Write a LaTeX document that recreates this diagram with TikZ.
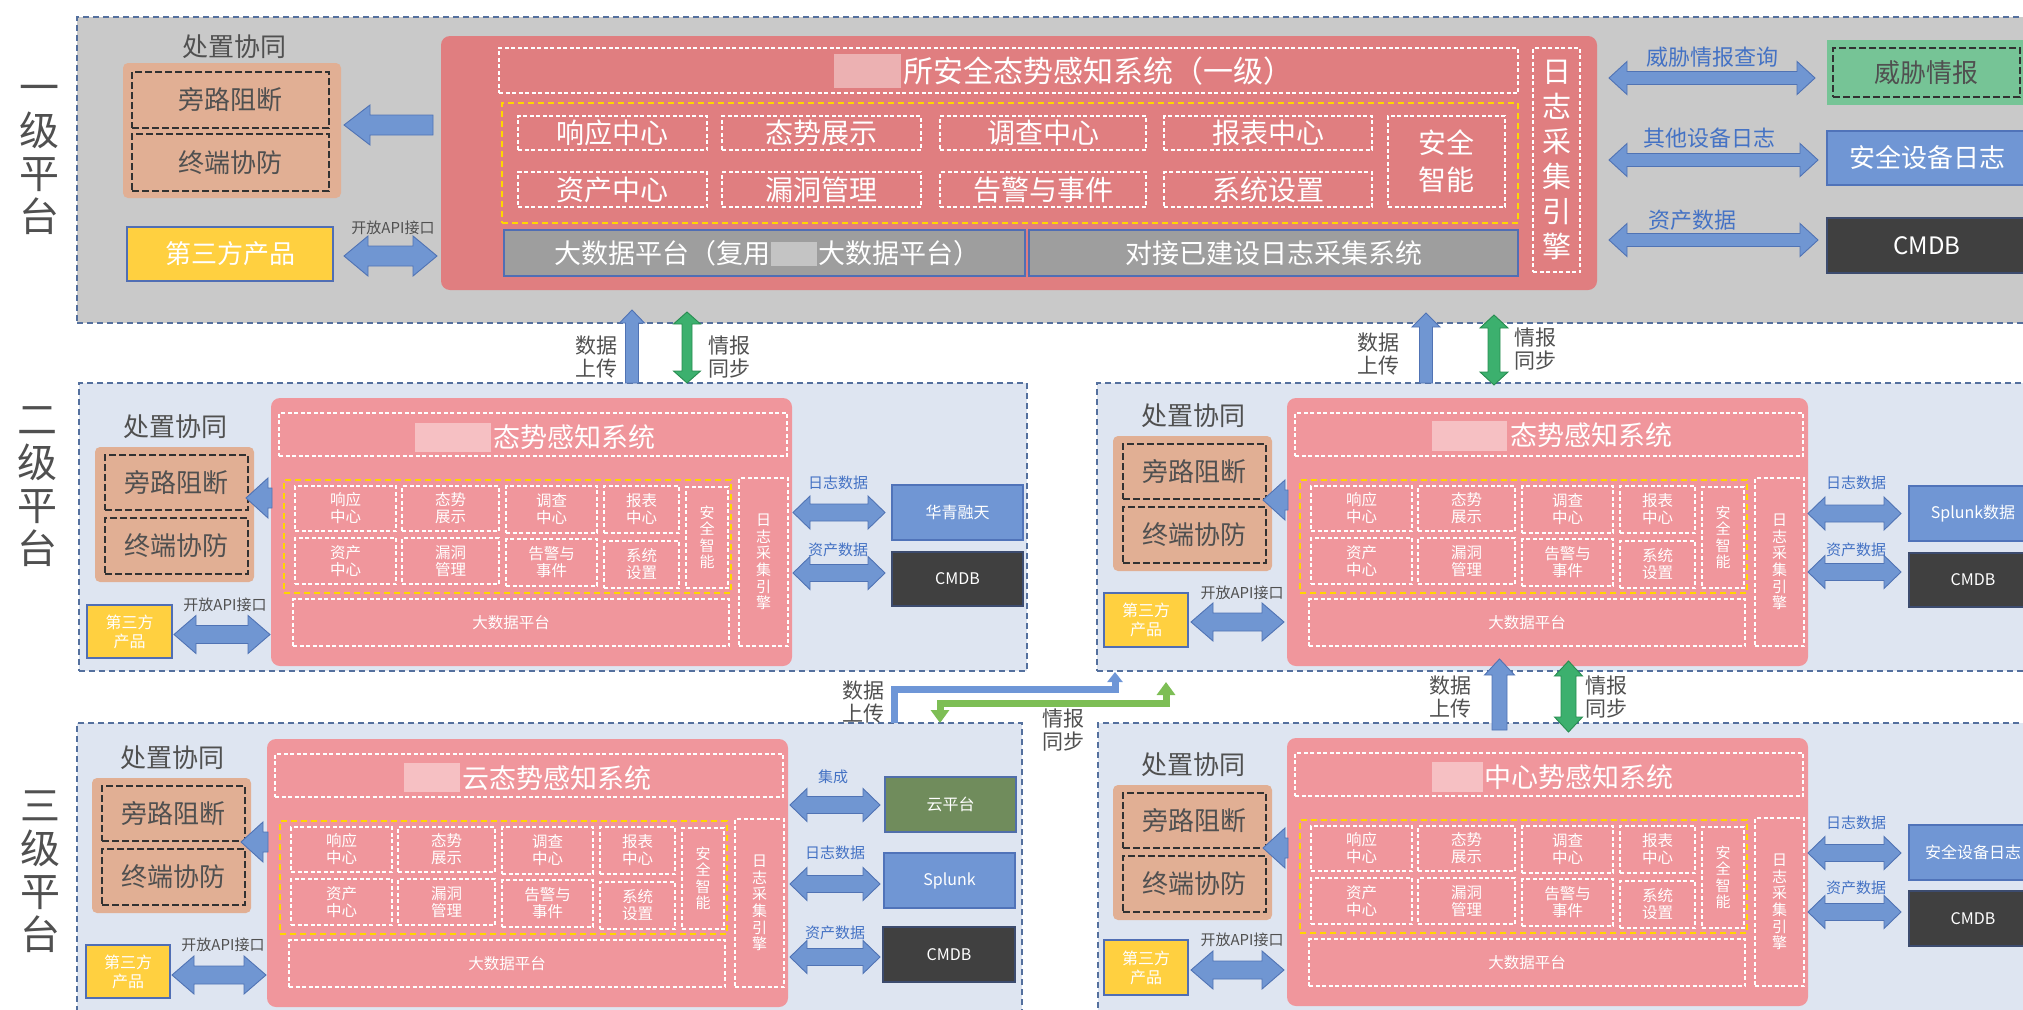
\documentclass[tikz,border=0pt]{standalone}
\usepackage{fontspec}
\setmainfont{Noto Sans CJK SC}
\usetikzlibrary{calc,arrows.meta}

\definecolor{cTone}{RGB}{201,201,201}
\definecolor{cTtwo}{RGB}{222,229,241}
\definecolor{cTierLn}{RGB}{84,112,158}
\definecolor{cPinkA}{RGB}{224,126,128}
\definecolor{cPinkB}{RGB}{240,150,156}
\definecolor{cOrange}{RGB}{225,175,148}
\definecolor{cGold}{RGB}{255,208,64}
\definecolor{cGoldLn}{RGB}{80,110,180}
\definecolor{cYel}{RGB}{255,214,0}
\definecolor{cArrow}{RGB}{112,150,210}
\definecolor{cArrowLn}{RGB}{80,115,180}
\definecolor{cGArrow}{RGB}{60,176,110}
\definecolor{cGArrowLn}{RGB}{40,140,80}
\definecolor{cElbG}{RGB}{125,190,85}
\definecolor{cElbB}{RGB}{110,150,215}
\definecolor{cBlueBox}{RGB}{112,150,212}
\definecolor{cBlueLn}{RGB}{80,115,185}
\definecolor{cDarkBox}{RGB}{64,64,64}
\definecolor{cDarkLn}{RGB}{60,75,110}
\definecolor{cTI}{RGB}{118,196,150}
\definecolor{cCloud}{RGB}{112,140,92}
\definecolor{cCloudLn}{RGB}{80,110,170}
\definecolor{cGrayBar}{RGB}{158,158,158}
\definecolor{cGrayLn}{RGB}{80,110,180}
\definecolor{cTxt}{RGB}{80,80,80}
\definecolor{cBluTxt}{RGB}{68,114,196}
\definecolor{cDark}{RGB}{50,50,50}

\tikzset{
 tierbox/.style={draw=cTierLn, line width=1.6pt, dash pattern=on 6pt off 4pt},
 pinkone/.style={fill=cPinkA, rounded corners=9pt},
 pinktwo/.style={fill=cPinkB, rounded corners=9pt},
 wd/.style={draw=white, line width=1.4pt, dash pattern=on 4pt off 2.5pt, text=white, align=center},
 yd/.style={draw=cYel, line width=1.6pt, dash pattern=on 6pt off 4pt},
 orbox/.style={fill=cOrange, rounded corners=5pt},
 kd/.style={draw=cDark, line width=2.6pt, dash pattern=on 7pt off 3pt, text=cTxt, font=\fontsize{26}{28}\selectfont},
 tpbox/.style={fill=cGold, draw=cGoldLn, line width=1.2pt, text=white, align=center},
 tierlab/.style={text=cTxt, align=center, font=\fontsize{40}{43}\selectfont},
 czlab/.style={text=cTxt, font=\fontsize{26}{28}\selectfont},
 apilab/.style={text=cTxt, font=\fontsize{15}{17}\selectfont},
 flowlab/.style={text=cTxt, align=center, font=\fontsize{21}{23}\selectfont},
 bluelab/.style={text=cBluTxt, font=\fontsize{15}{17}\selectfont},
 bluebig/.style={text=cBluTxt, font=\fontsize{22}{24}\selectfont},
 cellbig/.style={font=\fontsize{28}{37}\selectfont},
 cellsm/.style={font=\fontsize{15.5}{17}\selectfont},
 graybar/.style={fill=cGrayBar, draw=cGrayLn, line width=1.2pt, text=white, font=\fontsize{27}{29}\selectfont},
 extbox/.style={line width=1.2pt, text=white, font=\fontsize{16}{18}\selectfont},
 ttl/.style={anchor=west, text=white, font=\fontsize{27}{29}\selectfont},
 blur/.style={fill=white, opacity=0.4},
 blk/.style={fill=cArrow, draw=cArrowLn, line width=0.9pt},
 grn/.style={fill=cGArrow, draw=cGArrowLn, line width=0.9pt},
 fatdbl/.style n args={3}{to path={
   -- ($(\tikztostart)!#3!(\tikztotarget)!#1!90:(\tikztotarget)$)
   -- ($(\tikztostart)!#3!(\tikztotarget)!#2!90:(\tikztotarget)$)
   -- ($(\tikztotarget)!#3!(\tikztostart)!#2!-90:(\tikztostart)$)
   -- ($(\tikztotarget)!#3!(\tikztostart)!#1!-90:(\tikztostart)$)
   -- (\tikztotarget)
   -- ($(\tikztotarget)!#3!(\tikztostart)!#1!90:(\tikztostart)$)
   -- ($(\tikztotarget)!#3!(\tikztostart)!#2!90:(\tikztostart)$)
   -- ($(\tikztostart)!#3!(\tikztotarget)!#2!-90:(\tikztotarget)$)
   -- ($(\tikztostart)!#3!(\tikztotarget)!#1!-90:(\tikztotarget)$)
   -- cycle}},
 fatsgl/.style n args={3}{to path={
   -- ($(\tikztostart)!#2!90:(\tikztotarget)$)
   -- ($(\tikztotarget)!#3!(\tikztostart)!#2!-90:(\tikztostart)$)
   -- ($(\tikztotarget)!#3!(\tikztostart)!#1!-90:(\tikztostart)$)
   -- (\tikztotarget)
   -- ($(\tikztotarget)!#3!(\tikztostart)!#1!90:(\tikztostart)$)
   -- ($(\tikztotarget)!#3!(\tikztostart)!#2!90:(\tikztostart)$)
   -- ($(\tikztostart)!#2!-90:(\tikztotarget)$)
   -- cycle}},
 elbowb/.style={draw=cElbB, line width=7pt, -{Triangle[width=15pt,length=10pt]}},
 elbowg/.style={draw=cElbG, line width=7pt, {Triangle[width=18pt,length=13pt]}-{Triangle[width=18pt,length=13pt]}},
}

% rectangle node from corner (x1,y1) to (x2,y2): [opts]{name}{x1}{y1}{x2}{y2}{text}
\newcommand\bx[7][]{\node[#1, minimum width={(#5)-(#3)}, minimum height={(#6)-(#4)}] (#2) at ({((#3)+(#5))/2},{((#4)+(#6))/2}) {#7};}

% standard tier-2/3 system block: #1 prefix, #2 dx, #3 dy
\newcommand\mySys[3]{%
\bx[pinktwo]{#1pk}{271+#2}{398+#3}{792+#2}{666+#3}{}
\bx[wd]{#1tt}{279+#2}{413+#3}{787+#2}{456+#3}{}
\bx[yd]{#1yl}{284+#2}{480+#3}{731+#2}{593+#3}{}
\bx[wd, cellsm]{#1c1}{295+#2}{486+#3}{396+#2}{531+#3}{响应\\中心}
\bx[wd, cellsm]{#1c2}{402+#2}{486+#3}{499+#2}{531+#3}{态势\\展示}
\bx[wd, cellsm]{#1c3}{506+#2}{486+#3}{597+#2}{533+#3}{调查\\中心}
\bx[wd, cellsm]{#1c4}{604+#2}{486+#3}{679+#2}{533+#3}{报表\\中心}
\bx[wd, cellsm]{#1c5}{295+#2}{538+#3}{396+#2}{584+#3}{资产\\中心}
\bx[wd, cellsm]{#1c6}{402+#2}{538+#3}{499+#2}{584+#3}{漏洞\\管理}
\bx[wd, cellsm]{#1c7}{506+#2}{539+#3}{597+#2}{586+#3}{告警与\\事件}
\bx[wd, cellsm]{#1c8}{604+#2}{541+#3}{679+#2}{588+#3}{系统\\设置}
\bx[wd, font=\fontsize{15}{16.5}\selectfont]{#1c9}{686+#2}{487+#3}{728+#2}{588+#3}{安\\全\\智\\能}
\bx[wd, cellsm]{#1bd}{293+#2}{599+#3}{729+#2}{646+#3}{大数据平台}
\bx[wd, font=\fontsize{15}{16.7}\selectfont]{#1lg}{739+#2}{478+#3}{788+#2}{646+#3}{日\\志\\采\\集\\引\\擎}
}

% disposal group: #1 prefix, (#2,#3) top-left of orange box
\newcommand\myDispo[3]{%
\node[czlab] (#1cz) at ({#2+80},{#3-20}) {处置协同};
\bx[orbox]{#1or}{#2}{#3}{#2+159}{#3+135}{}
\bx[kd]{#1pl}{#2+10}{#3+8}{#2+153}{#3+63}{旁路阻断}
\bx[kd]{#1zd}{#2+10}{#3+71}{#2+153}{#3+127}{终端协防}
}

\begin{document}
\begin{tikzpicture}[x=1pt,y=-1pt, every node/.style={inner sep=0pt,outer sep=0pt}]
\useasboundingbox (0,0) rectangle (2023,1009);
\clip (0,0) rectangle (2023,1009);

% ---------- tier frames ----------
\bx[tierbox, fill=cTone]{t1}{77}{17}{2060}{323}{}
\bx[tierbox, fill=cTtwo]{t2l}{79}{383}{1027}{671}{}
\bx[tierbox, fill=cTtwo]{t2r}{1097}{383}{2060}{671}{}
\bx[tierbox, fill=cTtwo]{t3l}{77}{723}{1022}{1030}{}
\bx[tierbox, fill=cTtwo]{t3r}{1098}{723}{2060}{1030}{}

\node[tierlab] (lab1) at (39,160) {一\\级\\平\\台};
\node[tierlab] (lab2) at (37,487) {二\\级\\平\\台};
\node[tierlab] (lab3) at (40,872) {三\\级\\平\\台};

% ---------- tier 1 ----------
\node[czlab] (cz1) at (234,47) {处置协同};
\bx[orbox]{or1}{123}{63}{341}{198}{}
\bx[kd]{pl1}{132}{72}{329}{128}{旁路阻断}
\bx[kd]{zd1}{132}{134}{329}{191}{终端协防}
\bx[tpbox, font=\fontsize{26}{28}\selectfont]{tp1}{127}{227}{333}{281}{第三方产品}
\node[apilab] (api1) at (393,228) {开放API接口};

\bx[pinkone]{pk1}{441}{36}{1597}{290}{}
\bx[wd]{tt1}{499}{48}{1518}{93}{}
\fill[blur] (834,54) rectangle (901,88);
\node[anchor=west, text=white, font=\fontsize{30}{32}\selectfont] (tt1x) at (903,71) {所安全态势感知系统（一级）};
\bx[yd]{yl1}{502}{103}{1518}{223}{}
\bx[wd, cellbig]{a1}{518}{116}{707}{150}{响应中心}
\bx[wd, cellbig]{a2}{722}{116}{921}{150}{态势展示}
\bx[wd, cellbig]{a3}{940}{116}{1146}{150}{调查中心}
\bx[wd, cellbig]{a4}{1164}{116}{1372}{150}{报表中心}
\bx[wd, cellbig]{a5}{518}{172}{707}{207}{资产中心}
\bx[wd, cellbig]{a6}{722}{172}{921}{207}{漏洞管理}
\bx[wd, cellbig]{a7}{940}{172}{1146}{207}{告警与事件}
\bx[wd, cellbig]{a8}{1164}{172}{1372}{207}{系统设置}
\bx[wd, cellbig]{a9}{1388}{116}{1505}{207}{安全\\智能}
\bx[graybar]{bd1}{504}{230}{1025}{276}{}
\node[anchor=east, text=white, font=\fontsize{27}{29}\selectfont] (bd1a) at (770,253) {大数据平台（复用};
\fill[blur] (771,242) rectangle (817,266);
\node[anchor=west, text=white, font=\fontsize{27}{29}\selectfont] (bd1b) at (818,253) {大数据平台）};
\bx[graybar]{dj1}{1029}{230}{1518}{276}{对接已建设日志采集系统}
\bx[wd, font=\fontsize{29}{35}\selectfont]{lg1}{1533}{48}{1580}{272}{日\\志\\采\\集\\引\\擎}

\node[bluebig] (q1) at (1712,57) {威胁情报查询};
\node[bluebig] (q2) at (1709,138) {其他设备日志};
\node[bluebig] (q3) at (1692,220) {资产数据};
\bx[fill=cTI]{ti}{1827}{40}{2060}{105}{}
\bx[kd]{tii}{1833}{48}{2020}{97}{威胁情报}
\bx[extbox, fill=cBlueBox, draw=cBlueLn, font=\fontsize{26}{28}\selectfont]{sd1}{1827}{131}{2027}{185}{安全设备日志}
\bx[extbox, fill=cDarkBox, draw=cDarkLn, font=\fontsize{24}{26}\selectfont]{cm1}{1827}{218}{2027}{273}{CMDB}

\coordinate (a1s) at ($(pk1.west |- or1.east)+(-8,-5.5)$);
\coordinate (a1t) at ($(or1.east)+(3,-5.5)$);
\path[blk] (a1s) to[fatsgl={20pt}{10pt}{26pt}] (a1t);
\coordinate (b1s) at ($(tp1.east)+(11,2)$);
\coordinate (b1t) at ($(tp1.east -| pk1.west)+(-4,2)$);
\path[blk] (b1s) to[fatdbl={20pt}{10pt}{24pt}] (b1t);
\coordinate (c1s) at ($(pk1.east |- ti.west)+(12,5.5)$);
\coordinate (c1t) at ($(ti.west)+(-12,5.5)$);
\path[blk] (c1s) to[fatdbl={16.5pt}{6.5pt}{18pt}] (c1t);
\coordinate (d1s) at ($(pk1.east |- sd1.west)+(12,2)$);
\coordinate (d1t) at ($(sd1.west)+(-9,2)$);
\path[blk] (d1s) to[fatdbl={16.5pt}{6.5pt}{18pt}] (d1t);
\coordinate (e1s) at ($(pk1.east |- cm1.west)+(12,-5.5)$);
\coordinate (e1t) at ($(cm1.west)+(-9,-5.5)$);
\path[blk] (e1s) to[fatdbl={16.5pt}{6.5pt}{18pt}] (e1t);

% ---------- tier 2 / 3 system blocks ----------
\mySys{t2l}{0}{0}
\mySys{t2r}{1016}{0}
\mySys{t3l}{(-4)}{341}
\mySys{t3r}{1016}{340}

\fill[blur] (415,423) rectangle (491,452);
\node[ttl] (t2lx) at (493,437) {态势感知系统};
\fill[blur] (1432,421) rectangle (1507,451);
\node[ttl] (t2rx) at (1510,435) {态势感知系统};
\fill[blur] (404,763) rectangle (460,792);
\node[ttl] (t3lx) at (462,778) {云态势感知系统};
\fill[blur] (1432,762) rectangle (1483,792);
\node[ttl] (t3rx) at (1484,777) {中心势感知系统};

\myDispo{t2l}{95}{447}
\myDispo{t2r}{1113}{436}
\myDispo{t3l}{92}{778}
\myDispo{t3r}{1113}{785}

% disposal arrows
\coordinate (t2lq1) at ($(t2lpk.west |- t2lor.north)+(1,51)$);
\coordinate (t2lq2) at ($(t2lor.north east)+(-8,51)$);
\path[blk] (t2lq1) to[fatsgl={20pt}{10pt}{22pt}] (t2lq2);
\coordinate (t2rq1) at ($(t2rpk.west |- t2ror.north)+(1,64)$);
\coordinate (t2rq2) at ($(t2ror.north east)+(-9,64)$);
\path[blk] (t2rq1) to[fatsgl={20pt}{10pt}{22pt}] (t2rq2);
\coordinate (t3lq1) at ($(t3lpk.west |- t3lor.north)+(1,64)$);
\coordinate (t3lq2) at ($(t3lor.north east)+(-10,64)$);
\path[blk] (t3lq1) to[fatsgl={20pt}{10pt}{22pt}] (t3lq2);
\coordinate (t3rq1) at ($(t3rpk.west |- t3ror.north)+(1,63)$);
\coordinate (t3rq2) at ($(t3ror.north east)+(-9,63)$);
\path[blk] (t3rq1) to[fatsgl={20pt}{10pt}{22pt}] (t3rq2);

% third party products
\bx[tpbox, font=\fontsize{16}{19}\selectfont]{t2ltp}{87}{605}{172}{658}{第三方\\产品}
\bx[tpbox, font=\fontsize{16}{19}\selectfont]{t2rtp}{1104}{593}{1188}{647}{第三方\\产品}
\bx[tpbox, font=\fontsize{16}{19}\selectfont]{t3ltp}{86}{945}{170}{998}{第三方\\产品}
\bx[tpbox, font=\fontsize{16}{19}\selectfont]{t3rtp}{1104}{940}{1188}{995}{第三方\\产品}
\node[apilab] (t2lapi) at (225,605) {开放API接口};
\node[apilab] (t2rapi) at (1242,593) {开放API接口};
\node[apilab] (t3lapi) at (223,945) {开放API接口};
\node[apilab] (t3rapi) at (1242,940) {开放API接口};
\coordinate (t2lb1) at ($(t2ltp.east)+(2,3)$);
\coordinate (t2lb2) at ($(t2ltp.east -| t2lpk.west)+(-1,3)$);
\path[blk] (t2lb1) to[fatdbl={19pt}{9pt}{22pt}] (t2lb2);
\coordinate (t2rb1) at ($(t2rtp.east)+(3,2)$);
\coordinate (t2rb2) at ($(t2rtp.east -| t2rpk.west)+(-3,2)$);
\path[blk] (t2rb1) to[fatdbl={19pt}{9pt}{22pt}] (t2rb2);
\coordinate (t3lb1) at ($(t3ltp.east)+(2,3.5)$);
\coordinate (t3lb2) at ($(t3ltp.east -| t3lpk.west)+(-1,3.5)$);
\path[blk] (t3lb1) to[fatdbl={19pt}{9pt}{22pt}] (t3lb2);
\coordinate (t3rb1) at ($(t3rtp.east)+(3,2.5)$);
\coordinate (t3rb2) at ($(t3rtp.east -| t3rpk.west)+(-3,2.5)$);
\path[blk] (t3rb1) to[fatdbl={19pt}{9pt}{22pt}] (t3rb2);

% right-hand external systems, tier 2 left
\bx[extbox, fill=cBlueBox, draw=cBlueLn]{t2lx1}{892}{485}{1023}{540}{华青融天}
\bx[extbox, fill=cDarkBox, draw=cDarkLn]{t2lx2}{892}{552}{1023}{606}{CMDB}
\node[bluelab] (t2ll1) at (838,483) {日志数据};
\node[bluelab] (t2ll2) at (838,550) {资产数据};
\coordinate (t2lr1s) at ($(t2lpk.east |- t2lx1.west)+(1,0)$);
\coordinate (t2lr1t) at ($(t2lx1.west)+(-7,0)$);
\path[blk] (t2lr1s) to[fatdbl={16.5pt}{8.5pt}{17pt}] (t2lr1t);
\coordinate (t2lr2s) at ($(t2lpk.east |- t2lx2.west)+(1,-6)$);
\coordinate (t2lr2t) at ($(t2lx2.west)+(-7,-6)$);
\path[blk] (t2lr2s) to[fatdbl={16.5pt}{8.5pt}{17pt}] (t2lr2t);

% tier 2 right
\bx[extbox, fill=cBlueBox, draw=cBlueLn]{t2rx1}{1909}{486}{2037}{541}{Splunk数据}
\bx[extbox, fill=cDarkBox, draw=cDarkLn]{t2rx2}{1909}{553}{2037}{607}{CMDB}
\node[bluelab] (t2rl1) at (1856,483) {日志数据};
\node[bluelab] (t2rl2) at (1856,550) {资产数据};
\coordinate (t2rr1s) at ($(t2rpk.east |- t2rx1.west)+(0,0)$);
\coordinate (t2rr1t) at ($(t2rx1.west)+(-8,0)$);
\path[blk] (t2rr1s) to[fatdbl={16.5pt}{8.5pt}{17pt}] (t2rr1t);
\coordinate (t2rr2s) at ($(t2rpk.east |- t2rx2.west)+(0,-8)$);
\coordinate (t2rr2t) at ($(t2rx2.west)+(-8,-8)$);
\path[blk] (t2rr2s) to[fatdbl={16.5pt}{8.5pt}{17pt}] (t2rr2t);

% tier 3 left
\bx[extbox, fill=cCloud, draw=cCloudLn]{t3lx1}{885}{777}{1016}{832}{云平台}
\bx[extbox, fill=cBlueBox, draw=cBlueLn]{t3lx2}{884}{853}{1015}{908}{Splunk}
\bx[extbox, fill=cDarkBox, draw=cDarkLn]{t3lx3}{883}{927}{1015}{982}{CMDB}
\node[bluelab] (t3ll1) at (833,777) {集成};
\node[bluelab] (t3ll2) at (835,853) {日志数据};
\node[bluelab] (t3ll3) at (835,933) {资产数据};
\coordinate (t3lr1s) at ($(t3lpk.east |- t3lx1.west)+(2,0.5)$);
\coordinate (t3lr1t) at ($(t3lx1.west)+(-5,0.5)$);
\path[blk] (t3lr1s) to[fatdbl={16.5pt}{8.5pt}{17pt}] (t3lr1t);
\coordinate (t3lr2s) at ($(t3lpk.east |- t3lx2.west)+(2,3.5)$);
\coordinate (t3lr2t) at ($(t3lx2.west)+(-4,3.5)$);
\path[blk] (t3lr2s) to[fatdbl={16.5pt}{8.5pt}{17pt}] (t3lr2t);
\coordinate (t3lr3s) at ($(t3lpk.east |- t3lx3.west)+(2,2.5)$);
\coordinate (t3lr3t) at ($(t3lx3.west)+(-3,2.5)$);
\path[blk] (t3lr3s) to[fatdbl={16.5pt}{8.5pt}{17pt}] (t3lr3t);

% tier 3 right
\bx[extbox, fill=cBlueBox, draw=cBlueLn]{t3rx1}{1909}{825}{2037}{880}{安全设备日志}
\bx[extbox, fill=cDarkBox, draw=cDarkLn]{t3rx2}{1909}{891}{2037}{946}{CMDB}
\node[bluelab] (t3rl1) at (1856,823) {日志数据};
\node[bluelab] (t3rl2) at (1856,888) {资产数据};
\coordinate (t3rr1s) at ($(t3rpk.east |- t3rx1.west)+(0,0.5)$);
\coordinate (t3rr1t) at ($(t3rx1.west)+(-8,0.5)$);
\path[blk] (t3rr1s) to[fatdbl={16.5pt}{8.5pt}{17pt}] (t3rr1t);
\coordinate (t3rr2s) at ($(t3rpk.east |- t3rx2.west)+(0,-6.5)$);
\coordinate (t3rr2t) at ($(t3rx2.west)+(-8,-6.5)$);
\path[blk] (t3rr2s) to[fatdbl={16.5pt}{8.5pt}{17pt}] (t3rr2t);

% ---------- tier 1 <-> tier 2 ----------
\coordinate (u1s) at ($(t2l.north west)+(553,0)$);
\coordinate (u1t) at ($(t1.south west)+(555,-13)$);
\path[blk] (u1s) to[fatsgl={12.5pt}{6.5pt}{13pt}] (u1t);
\coordinate (g1s) at ($(t2l.north west)+(608,0)$);
\coordinate (g1t) at ($(t1.south west)+(610,-11)$);
\path[grn] (g1s) to[fatdbl={13.5pt}{5pt}{12pt}] (g1t);
\node[flowlab] (f1) at (596,357) {数据\\上传};
\node[flowlab] (f2) at (729,357) {情报\\同步};
\coordinate (u2s) at ($(t2r.north west)+(329,0)$);
\coordinate (u2t) at ($(t1.south west)+(1349,-10)$);
\path[blk] (u2s) to[fatsgl={14pt}{6.5pt}{14pt}] (u2t);
\coordinate (g2s) at ($(t2r.north west)+(397,2)$);
\coordinate (g2t) at ($(t1.south west)+(1417,-8)$);
\path[grn] (g2s) to[fatdbl={14pt}{6pt}{13pt}] (g2t);
\node[flowlab] (f3) at (1378,354) {数据\\上传};
\node[flowlab] (f4) at (1535,349) {情报\\同步};

% ---------- tier 2 <-> tier 3 (right) ----------
\coordinate (u3s) at ($(t3r.north west)+(401.5,7)$);
\coordinate (u3t) at ($(t2r.south west)+(402.5,-12)$);
\path[blk] (u3s) to[fatsgl={15pt}{7.5pt}{16pt}] (u3t);
\coordinate (g3s) at ($(t3r.north west)+(470.5,9)$);
\coordinate (g3t) at ($(t2r.south west)+(471.5,-10)$);
\path[grn] (g3s) to[fatdbl={14pt}{7.5pt}{15pt}] (g3t);
\node[flowlab] (f5) at (1450,697) {数据\\上传};
\node[flowlab] (f6) at (1606,697) {情报\\同步};

% ---------- tier 3 left -> tier 2 right (elbows) ----------
\coordinate (eb1) at ($(t3l.north west)+(817,0)$);
\coordinate (eb2) at ($(t2r.south west)+(18,1)$);
\draw[elbowb] (eb1) -- ++(0,-34) -| (eb2);
\coordinate (eg1) at ($(t2r.south west)+(69,11)$);
\coordinate (eg2) at ($(t3l.north west)+(863,0)$);
\draw[elbowg] (eg1) -- ++(0,21) -| (eg2);
\node[flowlab] (f7) at (863,702) {数据\\上传};
\node[flowlab] (f8) at (1063,730) {情报\\同步};
\end{tikzpicture}
\end{document}
